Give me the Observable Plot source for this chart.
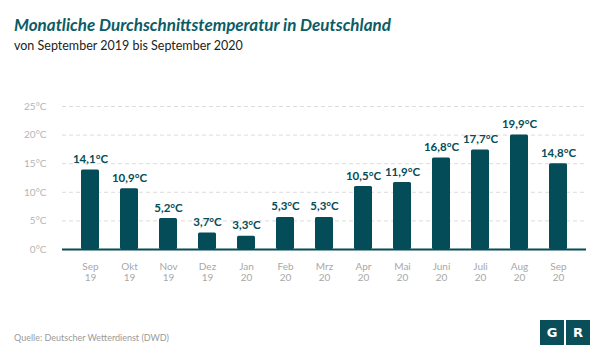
<!DOCTYPE html>
<html>
<head>
<meta charset="utf-8">
<script src="https://cdn.jsdelivr.net/npm/d3@7"></script>
<script src="https://cdn.jsdelivr.net/npm/@observablehq/plot@0.6"></script>
<style>
  html, body { margin: 0; padding: 0; background: #fff; }
  #wrap { position: relative; width: 600px; height: 361px; overflow: hidden; font-family: Lato, "Open Sans", sans-serif; }
  #title { position: absolute; left: 14px; top: 14px; font-size: 17px; font-weight: 700; font-style: italic; color: #0b5c66; white-space: nowrap; }
  #subtitle { position: absolute; left: 14px; top: 38px; font-size: 12.5px; color: #222; white-space: nowrap; }
  #chart { position: absolute; left: 0; top: 60px; }
  #source { position: absolute; left: 14px; top: 332px; font-size: 9px; color: #9a9a9a; white-space: nowrap; }
  #logo { position: absolute; left: 540px; top: 320px; display: flex; gap: 2px; }
  #logo div { width: 24px; height: 25px; background: #0a4e5a; color: #fff; font-family: "DejaVu Sans", sans-serif; font-weight: 700; font-size: 13px; display: flex; align-items: center; justify-content: center; }
</style>
</head>
<body>
<div id="wrap">
  <div id="title">Monatliche Durchschnittstemperatur in Deutschland</div>
  <div id="subtitle">von September 2019 bis September 2020</div>
  <div id="chart"></div>
  <div id="source">Quelle: Deutscher Wetterdienst (DWD)</div>
  <div id="logo"><div>G</div><div>R</div></div>
</div>
<script>
const months = ["Sep\n19", "Okt\n19", "Nov\n19", "Dez\n19", "Jan\n20", "Feb\n20", "Mrz\n20", "Apr\n20", "Mai\n20", "Juni\n20", "Juli\n20", "Aug\n20", "Sep\n20"];
const values = [13.9, 10.6, 5.4, 2.9, 2.3, 5.6, 5.6, 11.0, 11.7, 16.0, 17.4, 20.0, 15.0];
const labels = ["14,1°C", "10,9°C", "5,2°C", "3,7°C", "3,3°C", "5,3°C", "5,3°C", "10,5°C", "11,9°C", "16,8°C", "17,7°C", "19,9°C", "14,8°C"];
const yTicks = [0, 5, 10, 15, 20, 25];

const data = months.map((m, i) => ({month: m, value: values[i], label: labels[i]}));
const teal = "#044c58";

const chart = Plot.plot({
  width: 600,
  height: 240,
  marginLeft: 62,
  marginRight: 14,
  marginTop: 46,
  marginBottom: 51,
  style: {fontFamily: "Lato, 'Open Sans', sans-serif", background: "transparent"},
  x: {domain: months, paddingInner: 0.54, paddingOuter: 0.27, insetLeft: 3, insetRight: 3, label: null},
  y: {domain: [0, 25], label: null},
  marks: [
    Plot.ruleY(yTicks.filter(d => d > 0), {stroke: "#dcdcdc", strokeDasharray: "4,3", strokeWidth: 1}),
    Plot.axisY({ticks: yTicks, tickSize: 0, tickPadding: 16, tickFormat: d => d + "°C", fontSize: 10, fill: "#b5b5b5", label: null}),
    Plot.axisX({tickSize: 0, tickPadding: 12, fontSize: 10, fill: "#a8a8a8", lineHeight: 1.15, label: null}),
    Plot.barY(data, {x: "month", y: "value", fill: teal, rx: 1.5}),
    Plot.ruleY([0], {stroke: teal, strokeWidth: 2}),
    Plot.text(data, {x: "month", y: "value", text: "label", lineAnchor: "bottom", dy: -7, fill: teal, fontSize: 11.5, fontWeight: 700})
  ]
});
document.getElementById("chart").appendChild(chart);
</script>
</body>
</html>
